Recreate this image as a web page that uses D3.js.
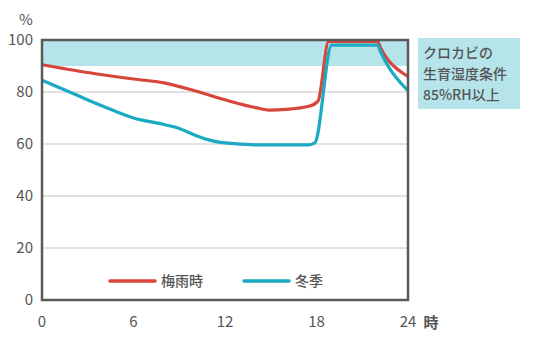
<!DOCTYPE html>
<html>
<head>
<meta charset="utf-8">
<script src="https://cdn.jsdelivr.net/npm/d3@7"></script>
<style>
  body { margin: 0; background: #fff; }
  text { font-family: "Noto Sans CJK JP", "Noto Sans", sans-serif; fill: #555; }
</style>
</head>
<body>
<div id="chart"></div>
<script>
const xTicks = [0, 6, 12, 18, 24];
const yTicks = [0, 20, 40, 60, 80, 100];
const seriesNames = ['梅雨時', '冬季'];
const seriesColors = ['#d8453b', '#1aabc2'];
const rainyHours = [0, 3, 6, 8, 10, 12, 14, 15, 16, 17.5, 18.1, 18.8, 22, 22.2, 22.6, 23.1, 23.6, 24];
const rainyValues = [90.5, 87.5, 85, 83.5, 80.5, 77, 74, 73, 73.3, 74.5, 76.5, 99.5, 99.5, 97, 93, 89.8, 87.5, 86];
const winterHours = [0, 2, 4, 6, 8, 9, 10, 11, 12, 14, 17.5, 17.9, 19, 22, 22.2, 22.8, 23.4, 24];
const winterValues = [84.5, 79.5, 74.5, 70, 67.5, 66, 63.5, 61.5, 60.4, 59.7, 59.7, 60.5, 98, 98, 95.5, 89, 84.3, 80.5];
const bandRange = [90, 100];
const noteLines = ['クロカビの', '生育湿度条件', '85%RH以上'];

const width = 540, height = 343;
const margin = { top: 40, right: 132, bottom: 43, left: 42 };

const svg = d3.select('#chart').append('svg')
    .attr('width', width)
    .attr('height', height);

const x = d3.scaleLinear().domain([0, 24]).range([margin.left, width - margin.right]);
const y = d3.scaleLinear().domain([0, 100]).range([height - margin.bottom, margin.top]);

// humidity band
svg.append('rect')
    .attr('x', x(0))
    .attr('y', y(bandRange[1]))
    .attr('width', x(24) - x(0))
    .attr('height', y(bandRange[0]) - y(bandRange[1]))
    .attr('fill', '#b5e4eb');

// gridlines
svg.append('g')
    .selectAll('line')
    .data(yTicks.filter(d => d > 0 && d < 100))
    .enter().append('line')
    .attr('x1', x(0))
    .attr('x2', x(24))
    .attr('y1', d => y(d))
    .attr('y2', d => y(d))
    .attr('stroke', '#c4c4c4')
    .attr('stroke-width', 1);

// y tick labels
svg.append('g')
    .selectAll('text')
    .data(yTicks)
    .enter().append('text')
    .attr('x', 33)
    .attr('y', d => y(d))
    .attr('dy', '0.36em')
    .attr('text-anchor', 'end')
    .attr('font-size', 15)
    .text(d => d);

// x tick labels
svg.append('g')
    .selectAll('text')
    .data(xTicks)
    .enter().append('text')
    .attr('x', d => x(d))
    .attr('y', 327)
    .attr('text-anchor', 'middle')
    .attr('font-size', 15)
    .text(d => d);

svg.append('text').attr('x', 26).attr('y', 25).attr('text-anchor', 'middle')
    .attr('font-size', 15).text('%');
svg.append('text').attr('x', 431).attr('y', 328).attr('text-anchor', 'middle')
    .attr('font-size', 15).attr('font-weight', 'bold').text('時');

// lines
const line = d3.line()
    .x(d => x(d[0]))
    .y(d => y(d[1]))
    .curve(d3.curveMonotoneX);

const series = [
    d3.zip(rainyHours, rainyValues),
    d3.zip(winterHours, winterValues)
];

svg.append('g')
    .selectAll('path')
    .data(series)
    .enter().append('path')
    .attr('d', line)
    .attr('fill', 'none')
    .attr('stroke', (d, i) => seriesColors[i])
    .attr('stroke-width', 3.2)
    .attr('stroke-linejoin', 'round');

// frame
svg.append('rect')
    .attr('x', x(0))
    .attr('y', y(100))
    .attr('width', x(24) - x(0))
    .attr('height', y(0) - y(100))
    .attr('fill', 'none')
    .attr('stroke', '#595959')
    .attr('stroke-width', 2.5);

// legend
const legend = svg.append('g')
    .selectAll('g')
    .data(seriesNames)
    .enter().append('g')
    .attr('transform', (d, i) => `translate(${110 + i * 134},281)`);

legend.append('line')
    .attr('x1', 0).attr('x2', 45)
    .attr('stroke', (d, i) => seriesColors[i])
    .attr('stroke-width', 3.5)
    .attr('stroke-linecap', 'round');

legend.append('text')
    .attr('x', 51)
    .attr('dy', '0.36em')
    .attr('font-size', 14)
    .attr('font-weight', 500)
    .text(d => d);

// note box
svg.append('rect')
    .attr('x', 418).attr('y', 38)
    .attr('width', 102).attr('height', 71)
    .attr('fill', '#b5e4eb');

svg.append('g')
    .selectAll('text')
    .data(noteLines)
    .enter().append('text')
    .attr('x', 423)
    .attr('y', (d, i) => 58 + i * 21)
    .attr('font-size', 14)
    .attr('font-weight', 500)
    .attr('fill', '#4d4d4d')
    .text(d => d);
</script>
</body>
</html>
